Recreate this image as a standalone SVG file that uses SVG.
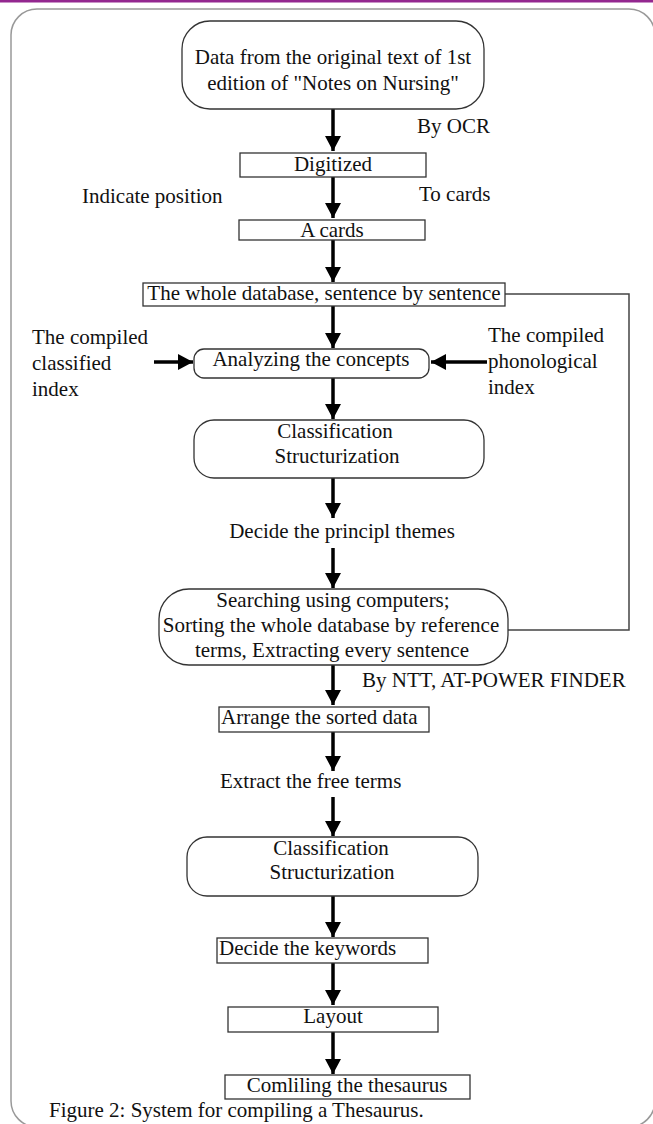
<svg xmlns="http://www.w3.org/2000/svg" width="653" height="1124" viewBox="0 0 653 1124">
<style>
text{font-family:"Liberation Serif","Times New Roman",serif;font-size:21px;fill:#111}
.c{text-anchor:middle}
.box{fill:#fff;stroke:#333;stroke-width:1.3}
.arr{stroke:#000;stroke-width:3.5;fill:none;marker-end:url(#ah)}
.link{stroke:#444;stroke-width:1.5;fill:none}
</style>
<defs>
<marker id="ah" markerUnits="userSpaceOnUse" markerWidth="16" markerHeight="16" refX="15" refY="8" orient="auto" viewBox="0 0 16 16">
<path d="M0,0 L15,8 L0,16 z" fill="#000"/>
</marker>
</defs>
<rect x="0" y="0" width="653" height="2.5" fill="#93278f"/>
<rect x="11" y="9" width="644" height="1118" rx="26" fill="none" stroke="#999" stroke-width="1.5"/>

<g id="connectors">
<line class="arr" x1="333" y1="109" x2="333" y2="151"/>
<line class="arr" x1="333" y1="177" x2="333" y2="218"/>
<line class="arr" x1="333" y1="240" x2="333" y2="282"/>
<line class="arr" x1="333" y1="306" x2="333" y2="348"/>
<line class="arr" x1="154" y1="362" x2="193" y2="362"/>
<line class="arr" x1="487" y1="362" x2="431" y2="362"/>
<line class="arr" x1="333" y1="378" x2="333" y2="419"/>
<line class="arr" x1="333" y1="478" x2="333" y2="518"/>
<line class="arr" x1="333" y1="548" x2="333" y2="588"/>
<line class="arr" x1="333" y1="665" x2="333" y2="705"/>
<line class="arr" x1="333" y1="732" x2="333" y2="771"/>
<line class="arr" x1="333" y1="797" x2="333" y2="836"/>
<line class="arr" x1="333" y1="896" x2="333" y2="937"/>
<line class="arr" x1="333" y1="963" x2="333" y2="1005"/>
<line class="arr" x1="333" y1="1032" x2="333" y2="1074"/>
<polyline class="link" points="505,294 629,294 629,630 508,630"/>
</g>

<g id="n1"><rect class="box" x="182" y="21" width="302" height="88" rx="28"/>
<text class="c" x="333" y="64">Data from the original text of 1st</text>
<text class="c" x="333" y="90">edition of "Notes on Nursing"</text></g>
<g id="lbl-ocr"><text x="417" y="133">By OCR</text></g>
<g id="n2"><rect class="box" x="240" y="153" width="186" height="24"/>
<text class="c" x="333" y="171">Digitized</text></g>
<g id="lbl-pos"><text x="82" y="203">Indicate position</text></g>
<g id="lbl-cards"><text x="419" y="201">To cards</text></g>
<g id="n3"><rect class="box" x="239" y="220" width="186" height="20"/>
<text class="c" x="332" y="237">A cards</text></g>
<g id="n4"><rect class="box" x="143" y="283" width="362" height="23"/>
<text class="c" x="324" y="300">The whole database, sentence by sentence</text></g>
<g id="lbl-classidx"><text x="32" y="344">The compiled</text><text x="32" y="370">classified</text><text x="32" y="396">index</text></g>
<g id="lbl-phonidx"><text x="488" y="342">The compiled</text><text x="488" y="368">phonological</text><text x="488" y="394">index</text></g>
<g id="n5"><rect class="box" x="194" y="349" width="235" height="29" rx="10"/>
<text class="c" x="311" y="366">Analyzing the concepts</text></g>
<g id="n6"><rect class="box" x="194" y="420" width="290" height="58" rx="20"/>
<text class="c" x="335" y="438">Classification</text>
<text class="c" x="337" y="463">Structurization</text></g>
<g id="lbl-themes"><text class="c" x="342" y="538">Decide the principl themes</text></g>
<g id="n7"><rect class="box" x="159" y="589" width="349" height="76" rx="30"/>
<text class="c" x="333" y="607">Searching using computers;</text>
<text class="c" x="331" y="632">Sorting the whole database by reference</text>
<text class="c" x="332" y="657">terms, Extracting every sentence</text></g>
<g id="lbl-ntt"><text x="362" y="687">By NTT, AT-POWER FINDER</text></g>
<g id="n8"><rect class="box" x="219" y="707" width="210" height="25"/>
<text x="221" y="724">Arrange the sorted data</text></g>
<g id="lbl-free"><text x="220" y="788">Extract the free terms</text></g>
<g id="n9"><rect class="box" x="187" y="837" width="291" height="59" rx="20"/>
<text class="c" x="331" y="855">Classification</text>
<text class="c" x="332" y="879">Structurization</text></g>
<g id="n10"><rect class="box" x="217" y="938" width="211" height="25"/>
<text x="219" y="955">Decide the keywords</text></g>
<g id="n11"><rect class="box" x="228" y="1007" width="210" height="25"/>
<text class="c" x="333" y="1023">Layout</text></g>
<g id="n12"><rect class="box" x="225" y="1075" width="245" height="24"/>
<text class="c" x="347" y="1092">Comliling the thesaurus</text></g>
<g id="caption"><text x="49" y="1117">Figure 2: System for compiling a Thesaurus.</text></g>
</svg>
